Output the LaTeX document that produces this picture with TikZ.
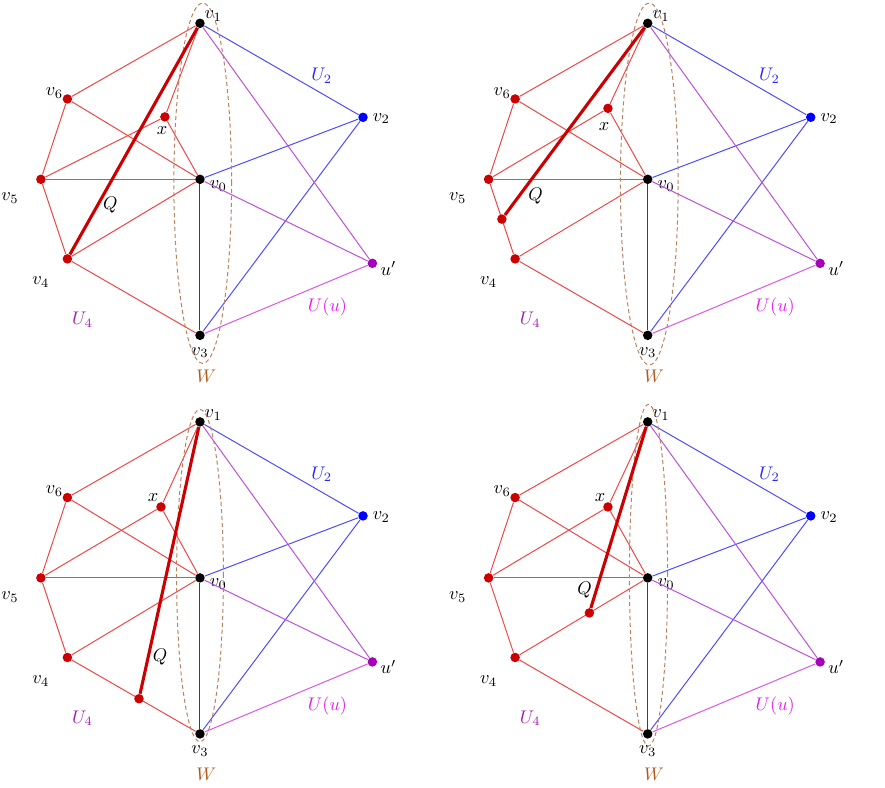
\documentclass[tikz,border=0pt]{standalone}
\usepackage{amsmath,amssymb}
\usepackage{tikz}
\usetikzlibrary{calc}
\definecolor{edgered}{HTML}{EE4848}
\definecolor{dotred}{HTML}{CC0000}
\definecolor{edgeblue}{HTML}{4D4DFF}
\definecolor{edgeviolet}{HTML}{BE52DA}
\definecolor{edgemagenta}{HTML}{DC58E4}
\definecolor{dotviolet}{HTML}{A800B8}
\definecolor{labmagenta}{HTML}{E020E8}
\definecolor{labpurple}{HTML}{A020A8}
\definecolor{wbrown}{HTML}{B05A1E}
\definecolor{ellbrown}{HTML}{B8835F}
\tikzset{
  dot/.style={circle,fill,inner sep=0pt,minimum size=5.2pt},
  redge/.style={edgered,line width=0.55pt},
  bedge/.style={edgeblue,line width=0.55pt},
  vedge/.style={edgeviolet,line width=0.55pt},
  medge/.style={edgemagenta,line width=0.55pt},
  kedge/.style={black!75,line width=0.55pt},
  qline/.style={dotred,line width=1.7pt},
  wset/.style={ellbrown,line width=0.55pt,dash pattern=on 2.2pt off 1.6pt}
}
% the graph shared by all four pictures: #1 = x, #2 = its label
\newcommand{\basegraph}[2]{%
\node[dot] (v0) at (0,0) {};
\node[dot] (v1) at (0,2) {};
\node[dot] (v3) at (0,-2) {};
\node[dot,blue] (v2) at (2.09,0.795) {};
\node[dot,dotviolet] (u) at (2.21,-1.077) {};
\node[dot,dotred] (v6) at (-1.7,1.03) {};
\node[dot,dotred] (v5) at (-2.04,0) {};
\node[dot,dotred] (v4) at (-1.7,-1.02) {};
\node[dot,dotred] (x) at (#1) {};
%labels
\node (l0) at (0.235,-0.083) {$v_0$};
\node (l1) at (0.17,2.09) {$v_1$};
\node (l2) at (2.325,0.78) {$v_2$};
\node (l3) at (0,-2.22) {$v_3$};
\node (l4) at (-2.04,-1.32) {$v_4$};
\node (l5) at (-2.436,-0.245) {$v_5$};
\node (l6) at (-1.865,1.11) {$v_6$};
\node (lu) at (2.415,-1.14) {$u'$};
\node (lx) at (#2) {$x$};
\node[blue!85] (U2) at (1.56,1.33) {$U_2$};
\node[labmagenta] (Uu) at (1.635,-1.64) {$U(u)$};
\node[labpurple] (U4) at (-1.506,-1.8) {$U_4$};
\node[wbrown] (W) at (0.08,-2.52) {$W$};
%edges
\draw[redge] (v1) -- (v6) -- (v5) -- (v4) -- (v3);
\draw[redge] (v1) -- (x) -- (v0);
\draw[redge] (v5) -- (x);
\draw[redge] (v6) -- (v0);
\draw[redge] (v5) -- (v0);
\draw[redge] (v4) -- (v0);
\draw[bedge] (v1) -- (v2) -- (v3);
\draw[bedge] (v2) -- (v0);
\draw[vedge] (v1) -- (u) -- (v0);
\draw[medge] (u) -- (v3);
\draw[kedge] (v0) -- (v3);
}

\begin{document}
\begin{tikzpicture}[x=1.5cm,y=1.5cm]
\useasboundingbox (-2.564,-7.791) rectangle (8.782,2.299);
%top left
\begin{scope}
\basegraph{-0.45,0.8}{-0.487,0.631}
\draw[wset] (0.035,-0.05) ellipse [x radius=0.37, y radius=2.31];
\draw[qline] (v1) -- (v4);
\node (Q) at (-1.15,-0.33) {$Q$};
\end{scope}
%top right
\begin{scope}[shift={(5.74,0)}]
\basegraph{-0.51,0.91}{-0.56,0.68}
\draw[wset] (0.02,-0.06) ellipse [x radius=0.37, y radius=2.32];
\node[dot,dotred] (q) at ($(v5)!0.5!(v4)$) {};
\draw[qline] (v1) -- (q);
\node (Q) at (-1.436,-0.214) {$Q$};
\end{scope}
%bottom left
\begin{scope}[shift={(0,-5.11)}]
\basegraph{-0.5,0.91}{-0.6,1.03}
\draw[wset] (0,0.03) ellipse [x radius=0.3, y radius=2.13];
\node[dot,dotred] (q) at ($(v4)!0.54!(v3)$) {};
\draw[qline] (v1) -- (q);
\node (Q) at (-0.51,-1.01) {$Q$};
\end{scope}
%bottom right
\begin{scope}[shift={(5.74,-5.11)}]
\basegraph{-0.51,0.91}{-0.61,1.03}
\draw[wset] (0.01,0.035) ellipse [x radius=0.245, y radius=2.19];
\node[dot,dotred] (q) at ($(v0)!0.44!(v4)$) {};
\draw[qline] (v1) -- (q);
\node (Q) at (-0.81,-0.16) {$Q$};
\end{scope}
\end{tikzpicture}
\end{document}
